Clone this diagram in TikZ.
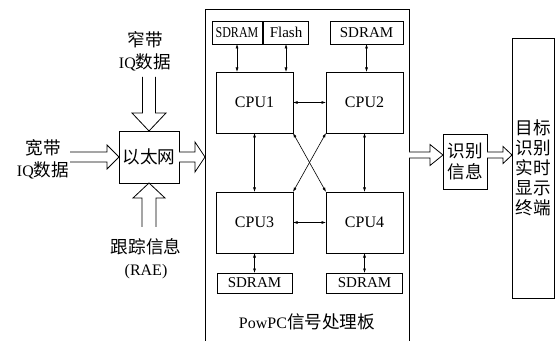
\documentclass[tikz,border=0pt]{standalone}
\usepackage{fontspec}
\setmainfont{Liberation Serif}
\newfontfamily\cjk[Scale=1.1]{Noto Sans CJK SC}
\newcommand\zh[1]{{\cjk #1}}
\usetikzlibrary{positioning,arrows.meta,calc}
\tikzset{
  box/.style={draw,line width=0.8pt,inner sep=0pt,outer sep=0pt,align=center,
              font=\fontsize{16}{21}\selectfont},
  zhbox/.style={box,font=\cjk\fontsize{16}{21}\selectfont},
  cpubox/.style={box,minimum width=77pt,minimum height=61pt},
  membox/.style={box,minimum height=23pt,font=\fontsize{15}{18}\selectfont},
  lbl/.style={align=center,inner sep=0pt,font=\fontsize{16}{22}\selectfont},
  lnb/.style={{Latex[length=4.5pt,width=3pt]}-{Latex[length=4.5pt,width=3pt]},line width=0.6pt},
  hollow/.style args={#1/#2/#3}{draw,line width=0.8pt,fill=white,
    to path={($(\tikztostart)!#1!90:(\tikztotarget)$)
      -- ($(\tikztotarget)!#3!(\tikztostart)!#1!90:(\tikztotarget)$)
      -- ($(\tikztotarget)!#3!(\tikztostart)!#2!90:(\tikztotarget)$)
      -- (\tikztotarget)
      -- ($(\tikztotarget)!#3!(\tikztostart)!#2!-90:(\tikztotarget)$)
      -- ($(\tikztotarget)!#3!(\tikztostart)!#1!-90:(\tikztotarget)$)
      -- ($(\tikztostart)!#1!-90:(\tikztotarget)$)}},
}
\begin{document}
\begin{tikzpicture}[x=1pt,y=1pt]
\useasboundingbox (0,0) rectangle (556,340);
\node[minimum width=204pt,minimum height=345pt,anchor=north west,inner sep=0pt,outer sep=0pt] (board) at (205,331) {};
\draw[line width=0.8pt] (board.south west) -- (board.north west) -- (board.north east) -- (board.south east);

\node[cpubox] (cpu1) at (254.5,237.5) {CPU1};
\node[cpubox,right=33pt of cpu1] (cpu2) {CPU2};
\node[cpubox,below=59pt of cpu1] (cpu3) {CPU3};
\node[cpubox,right=33pt of cpu3] (cpu4) {CPU4};

\node[membox,minimum width=50pt,
      above=28pt of cpu1.north west,anchor=south west,xshift=-4pt] (sdram1) {\scalebox{0.8}[1]{SDRAM}};
\node[membox,minimum width=45pt,right=1.5pt of sdram1] (flash) {Flash};
\node[membox,minimum width=73pt,above=28pt of cpu2.north east,anchor=south east] (sdram2) {SDRAM};
\node[membox,minimum width=75pt,minimum height=20pt,below=20pt of cpu3] (sdram3) {SDRAM};
\node[membox,minimum width=76pt,minimum height=20pt,below=20pt of cpu4] (sdram4) {SDRAM};
\node[lbl] (boardname) at (307,18) {PowPC\zh{信号处理板}};

\draw[lnb] (sdram1.south) -- (sdram1.south |- cpu1.north);
\draw[lnb] (flash.south) -- (flash.south |- cpu1.north);
\draw[lnb] (sdram2.south) -- (sdram2.south |- cpu2.north);
\draw[lnb] (cpu1.east) -- (cpu2.west);
\draw[lnb] (cpu3.east) -- (cpu4.west);
\draw[lnb] (cpu1.south) -- (cpu3.north);
\draw[lnb] (cpu2.south) -- (cpu4.north);
\draw[lnb] (cpu1.south east) -- (cpu4.north west);
\draw[lnb] (cpu2.south west) -- (cpu3.north east);
\draw[lnb] (cpu3.south) -- (sdram3.north);
\draw[lnb] (cpu4.south) -- (sdram4.north);

\node[zhbox,minimum width=60pt,minimum height=52pt] (eth) at (149,183) {以太网};
\node[zhbox,minimum width=44pt,minimum height=55pt] (idinfo) at (465,178.5) {识别\\信息};
\node[zhbox,font=\cjk\fontsize{16}{20}\selectfont,minimum width=42pt,minimum height=260pt] (disp) at (533,172)
  {目标\\识别\\实时\\显示\\终端};

\node[lbl] (narrow) at (145,288.5) {\zh{窄带}\\IQ\zh{数据}};
\node[lbl] (wide) at (43,181) {\zh{宽带}\\IQ\zh{数据}};
\node[lbl] (track) at (146,81.5) {\zh{跟踪信息}\\(RAE)};

\coordinate (wtail) at (70,183);
\coordinate (ntail) at (149,263);
\coordinate (ttail) at (149,113);
\coordinate (otail) at (409,185);
\coordinate (idin) at (otail -| idinfo.west);
\coordinate (idout) at (otail -| idinfo.east);
\coordinate (dispin) at (otail -| disp.west);
\coordinate (boardin) at (eth.east -| board.west);
\draw[hollow=5pt/12pt/12pt] (wtail) to (eth.west);
\draw[hollow=6.5pt/17pt/18pt] (ntail) to (eth.north);
\draw[hollow=7pt/16pt/15pt] (ttail) to (eth.south);
\draw[hollow=5pt/15pt/10pt] (eth.east) to (boardin);
\draw[hollow=3pt/10.5pt/13pt] (otail) to (idin);
\draw[hollow=3pt/8.5pt/9pt] (idout) to (dispin);
\end{tikzpicture}
\end{document}
